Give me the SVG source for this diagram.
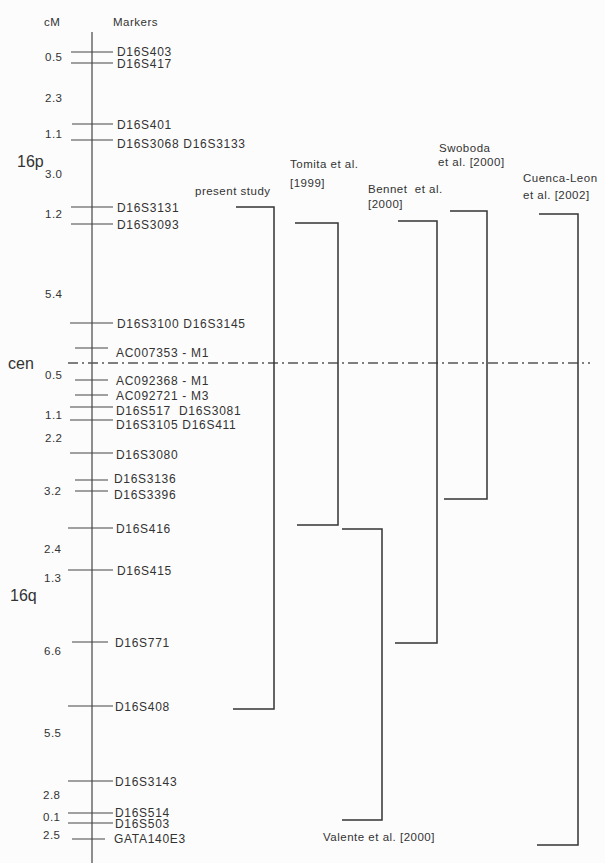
<svg xmlns="http://www.w3.org/2000/svg" width="605" height="863" viewBox="0 0 605 863">
<style>
text{font-family:"Liberation Sans",Arial,sans-serif;fill:#333;}
.m{font-size:12px;letter-spacing:0.7px;}
.c{font-size:11.5px;letter-spacing:0.5px;}
.r{font-size:11.5px;letter-spacing:0.5px;}
.big{font-size:16px;}
.tk{stroke:#444;stroke-width:1.2;fill:none;}
.br{stroke:#333;stroke-width:1.5;fill:none;}
</style>
<rect width="605" height="863" fill="#fcfcfc"/>
<g id="axis">
<line class="tk" x1="92" y1="32" x2="92" y2="863"/>
<text class="c" x="44" y="26">cM</text>
<text class="c" x="113" y="26">Markers</text>
<text class="big" x="17" y="167">16p</text>
<text class="big" x="8" y="369">cen</text>
<text class="big" x="10" y="601">16q</text>
</g>
<g id="cen-line">
<line x1="68" y1="363" x2="590" y2="363" stroke="#555" stroke-width="1.5" stroke-dasharray="10 4 2 4"/>
</g>
<g id="cM">
<text class="c" x="45" y="61">0.5</text>
<text class="c" x="45" y="102">2.3</text>
<text class="c" x="45" y="138">1.1</text>
<text class="c" x="45" y="178">3.0</text>
<text class="c" x="45" y="218">1.2</text>
<text class="c" x="45" y="298">5.4</text>
<text class="c" x="45" y="379">0.5</text>
<text class="c" x="45" y="419">1.1</text>
<text class="c" x="45" y="442">2.2</text>
<text class="c" x="44" y="495">3.2</text>
<text class="c" x="44" y="553">2.4</text>
<text class="c" x="44" y="582">1.3</text>
<text class="c" x="44" y="655">6.6</text>
<text class="c" x="44" y="737">5.5</text>
<text class="c" x="43" y="799">2.8</text>
<text class="c" x="43" y="821">0.1</text>
<text class="c" x="43" y="839">2.5</text>
</g>
<g id="markers">
<g id="m-D16S403"><line class="tk" x1="71" y1="52" x2="113" y2="52"/><text class="m" x="117" y="56">D16S403</text></g>
<g id="m-D16S417"><line class="tk" x1="71" y1="63" x2="113" y2="63"/><text class="m" x="117" y="68">D16S417</text></g>
<g id="m-D16S401"><line class="tk" x1="72" y1="124" x2="113" y2="124"/><text class="m" x="117" y="129">D16S401</text></g>
<g id="m-D16S3068"><line class="tk" x1="71" y1="140" x2="113" y2="140"/><text class="m" x="117" y="148">D16S3068 D16S3133</text></g>
<g id="m-D16S3131"><line class="tk" x1="71" y1="207" x2="113" y2="207"/><text class="m" x="117" y="212">D16S3131</text></g>
<g id="m-D16S3093"><line class="tk" x1="71" y1="224" x2="113" y2="224"/><text class="m" x="117" y="229">D16S3093</text></g>
<g id="m-D16S3100"><line class="tk" x1="70" y1="323" x2="113" y2="323"/><text class="m" x="117" y="328">D16S3100 D16S3145</text></g>
<g id="m-AC007353"><line class="tk" x1="75" y1="348" x2="108" y2="348"/><text class="m" x="116" y="357">AC007353 - M1</text></g>
<g id="m-AC092368"><line class="tk" x1="75" y1="380" x2="108" y2="380"/><text class="m" x="116" y="385">AC092368 - M1</text></g>
<g id="m-AC092721"><line class="tk" x1="75" y1="395" x2="108" y2="395"/><text class="m" x="116" y="400">AC092721 - M3</text></g>
<g id="m-D16S517"><line class="tk" x1="70" y1="407" x2="113" y2="407"/><text class="m" x="116" y="415" xml:space="preserve">D16S517  D16S3081</text></g>
<g id="m-D16S3105"><line class="tk" x1="70" y1="420" x2="113" y2="420"/><text class="m" x="116" y="429">D16S3105 D16S411</text></g>
<g id="m-D16S3080"><line class="tk" x1="70" y1="453" x2="113" y2="453"/><text class="m" x="116" y="459">D16S3080</text></g>
<g id="m-D16S3136"><line class="tk" x1="75" y1="480" x2="108" y2="480"/><text class="m" x="114" y="483">D16S3136</text></g>
<g id="m-D16S3396"><line class="tk" x1="75" y1="491" x2="108" y2="491"/><text class="m" x="114" y="499">D16S3396</text></g>
<g id="m-D16S416"><line class="tk" x1="68" y1="528" x2="113" y2="528"/><text class="m" x="116" y="533">D16S416</text></g>
<g id="m-D16S415"><line class="tk" x1="68" y1="570" x2="113" y2="570"/><text class="m" x="117" y="575">D16S415</text></g>
<g id="m-D16S771"><line class="tk" x1="72" y1="642" x2="108" y2="642"/><text class="m" x="115" y="647">D16S771</text></g>
<g id="m-D16S408"><line class="tk" x1="68" y1="706" x2="113" y2="706"/><text class="m" x="115" y="711">D16S408</text></g>
<g id="m-D16S3143"><line class="tk" x1="68" y1="781" x2="113" y2="781"/><text class="m" x="115" y="786">D16S3143</text></g>
<g id="m-D16S514"><line class="tk" x1="68" y1="813" x2="113" y2="813"/><text class="m" x="115" y="817">D16S514</text></g>
<g id="m-D16S503"><line class="tk" x1="68" y1="823" x2="113" y2="823"/><text class="m" x="115" y="828">D16S503</text></g>
<g id="m-GATA140E3"><line class="tk" x1="72" y1="839" x2="105" y2="839"/><text class="m" x="114" y="843">GATA140E3</text></g>
</g>
<g id="studies">
<g id="present-study"><text class="r" x="195" y="195">present study</text><polyline class="br" points="236,207 274,207 274,709 233,709"/></g>
<g id="tomita"><text class="r" x="290" y="168">Tomita et al.</text><text class="r" x="290" y="187">[1999]</text><polyline class="br" points="295,223 338,223 338,525 297,525"/></g>
<g id="valente"><polyline class="br" points="342,529 382,529 382,820 342,820"/><text class="r" x="323" y="841">Valente et al. [2000]</text></g>
<g id="bennet"><text class="r" x="368" y="193" xml:space="preserve">Bennet  et al.</text><text class="r" x="368" y="208">[2000]</text><polyline class="br" points="398,221 437,221 437,643 395,643"/></g>
<g id="swoboda"><text class="r" x="439" y="152">Swoboda</text><text class="r" x="438" y="166">et al. [2000]</text><polyline class="br" points="450,211 487,211 487,499 444,499"/></g>
<g id="cuenca"><text class="r" x="523" y="182">Cuenca-Leon</text><text class="r" x="523" y="199">et al. [2002]</text><polyline class="br" points="539,214 578,214 578,845 537,845"/></g>
</g>
</svg>
